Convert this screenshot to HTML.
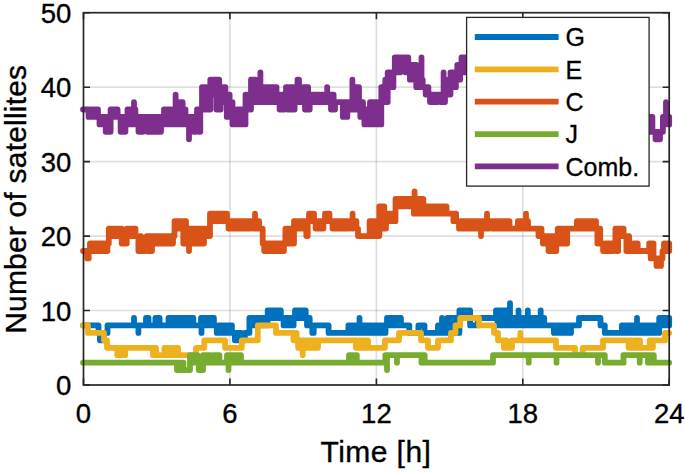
<!DOCTYPE html>
<html><head><meta charset="utf-8"><style>
html,body{margin:0;padding:0;background:#fff;}
body{width:685px;height:472px;overflow:hidden;}
svg{display:block;font-family:"Liberation Sans",sans-serif;}
</style></head><body>
<svg width="685" height="472" viewBox="0 0 685 472">
<rect width="685" height="472" fill="#fff"/>
<g stroke="#262626" stroke-opacity="0.15" stroke-width="1.7"><line x1="229.9" y1="12.7" x2="229.9" y2="385.0"/><line x1="376.4" y1="12.7" x2="376.4" y2="385.0"/><line x1="522.8" y1="12.7" x2="522.8" y2="385.0"/><line x1="83.5" y1="310.5" x2="669.2" y2="310.5"/><line x1="83.5" y1="236.1" x2="669.2" y2="236.1"/><line x1="83.5" y1="161.6" x2="669.2" y2="161.6"/><line x1="83.5" y1="87.2" x2="669.2" y2="87.2"/></g>
<g fill="none" stroke-width="5.8" stroke-linejoin="round" stroke-linecap="round">
<path d="M83.0 325.4L98.5 325.4L98.5 332.9L99.9 332.9L99.9 340.3L101.2 340.3L101.2 332.9L102.6 332.9L102.6 340.3L104.0 340.3L104.0 332.9L107.5 332.9L107.5 325.4L131.5 325.4L146.0 325.4L146.0 318.0L148.5 318.0L148.5 325.4L155.4 325.4L155.4 318.0L156.8 318.0L156.8 325.4L158.2 325.4L158.2 318.0L159.6 318.0L159.6 325.4L161.0 325.4L168.5 325.4L168.5 318.0L170.0 318.0L170.0 325.4L171.4 325.4L171.4 318.0L172.9 318.0L172.9 325.4L174.3 325.4L174.3 318.0L175.8 318.0L175.8 325.4L177.3 325.4L177.3 318.0L178.7 318.0L178.7 325.4L180.2 325.4L180.2 318.0L181.6 318.0L181.6 325.4L183.1 325.4L183.1 318.0L184.5 318.0L184.5 325.4L186.0 325.4L186.0 318.0L187.5 318.0L187.5 325.4L188.9 325.4L188.9 318.0L190.4 318.0L190.4 325.4L191.8 325.4L191.8 318.0L193.3 318.0L193.3 325.4L201.0 325.4L201.0 318.0L202.4 318.0L202.4 325.4L203.9 325.4L203.9 318.0L205.3 318.0L205.3 325.4L206.7 325.4L206.7 318.0L208.2 318.0L208.2 325.4L209.6 325.4L209.6 318.0L211.0 318.0L211.0 325.4L212.4 325.4L212.4 318.0L213.9 318.0L213.9 325.4L215.3 325.4L216.8 325.4L216.8 332.9L218.3 332.9L218.3 325.4L219.8 325.4L219.8 332.9L221.3 332.9L221.3 325.4L222.8 325.4L222.8 332.9L224.4 332.9L224.4 325.4L225.9 325.4L225.9 332.9L227.4 332.9L227.4 325.4L228.9 325.4L228.9 332.9L230.4 332.9L230.4 325.4L231.9 325.4L231.9 332.9L233.4 332.9L234.9 332.9L234.9 340.3L236.5 340.3L236.5 332.9L238.0 332.9L238.0 340.3L239.5 340.3L239.5 332.9L241.1 332.9L241.1 340.3L242.6 340.3L244.9 340.3L244.9 332.9L249.4 332.9L249.4 318.0L250.9 318.0L250.9 325.4L252.4 325.4L252.4 318.0L254.0 318.0L254.0 325.4L255.5 325.4L255.5 318.0L257.0 318.0L257.0 325.4L258.6 325.4L258.6 318.0L260.1 318.0L260.1 325.4L261.6 325.4L261.6 318.0L263.1 318.0L263.1 325.4L264.6 325.4L264.6 318.0L266.2 318.0L266.2 325.4L267.7 325.4L267.7 310.5L269.1 310.5L269.1 318.0L270.6 318.0L270.6 310.5L272.1 310.5L272.1 318.0L273.5 318.0L273.5 310.5L274.9 310.5L274.9 318.0L276.4 318.0L276.4 310.5L277.8 310.5L277.8 318.0L279.3 318.0L279.3 310.5L280.8 310.5L280.8 318.0L282.2 318.0L283.6 318.0L283.6 325.4L285.0 325.4L285.0 318.0L286.5 318.0L286.5 325.4L287.9 325.4L287.9 318.0L289.3 318.0L289.3 325.4L290.7 325.4L290.7 318.0L292.2 318.0L292.2 325.4L293.6 325.4L293.6 318.0L295.0 318.0L295.0 310.5L296.5 310.5L296.5 318.0L298.1 318.0L298.1 310.5L299.6 310.5L299.6 318.0L301.1 318.0L301.1 310.5L302.6 310.5L302.6 318.0L304.2 318.0L304.2 310.5L305.7 310.5L305.7 318.0L307.0 318.0L307.0 325.4L308.4 325.4L308.4 318.0L309.7 318.0L309.7 325.4L311.0 325.4L312.3 325.4L312.3 332.9L313.7 332.9L313.7 325.4L315.0 325.4L328.6 325.4L328.6 332.9L348.4 332.9L348.4 325.4L349.9 325.4L349.9 332.9L351.4 332.9L351.4 325.4L353.0 325.4L353.0 332.9L354.5 332.9L354.5 325.4L356.0 325.4L357.4 325.4L357.4 332.9L358.8 332.9L358.8 325.4L360.2 325.4L360.2 332.9L361.6 332.9L361.6 325.4L363.0 325.4L364.3 325.4L365.8 325.4L365.8 332.9L367.3 332.9L367.3 325.4L368.8 325.4L368.8 332.9L370.4 332.9L370.4 325.4L371.9 325.4L371.9 332.9L373.4 332.9L373.4 325.4L374.9 325.4L374.9 332.9L376.4 332.9L376.4 325.4L377.9 325.4L377.9 332.9L379.4 332.9L379.4 325.4L380.9 325.4L380.9 332.9L382.5 332.9L382.5 325.4L384.0 325.4L384.0 332.9L385.5 332.9L385.5 325.4L387.0 325.4L387.0 318.0L388.5 318.0L388.5 325.4L390.1 325.4L390.1 318.0L391.6 318.0L391.6 325.4L393.2 325.4L393.2 318.0L394.7 318.0L394.7 325.4L396.2 325.4L396.2 318.0L397.8 318.0L397.8 325.4L399.3 325.4L399.3 318.0L400.9 318.0L400.9 325.4L402.4 325.4L409.3 325.4L409.3 332.9L418.4 332.9L418.4 325.4L424.5 325.4L424.5 332.9L438.0 332.9L438.0 325.4L439.5 325.4L439.5 332.9L441.1 332.9L441.1 325.4L442.6 325.4L442.6 332.9L444.1 332.9L444.1 325.4L445.7 325.4L445.7 332.9L447.2 332.9L447.2 318.0L448.7 318.0L448.7 332.9L450.2 332.9L450.2 318.0L451.8 318.0L451.8 332.9L453.3 332.9L453.3 318.0L454.8 318.0L454.8 332.9L456.3 332.9L456.3 318.0L457.9 318.0L457.9 332.9L459.4 332.9L459.4 310.5L460.9 310.5L460.9 318.0L462.5 318.0L462.5 310.5L464.0 310.5L464.0 318.0L465.5 318.0L465.5 310.5L467.0 310.5L467.0 318.0L468.6 318.0L468.6 310.5L470.1 310.5L470.1 325.4L477.7 325.4L477.7 318.0L496.0 318.0L496.0 310.5L497.5 310.5L497.5 325.4L499.0 325.4L499.0 310.5L500.5 310.5L500.5 325.4L502.1 325.4L502.1 310.5L503.6 310.5L503.6 325.4L505.1 325.4L505.1 310.5L506.6 310.5L506.6 318.0L508.0 318.0L508.0 325.4L509.3 325.4L509.3 318.0L510.7 318.0L510.7 325.4L512.0 325.4L512.0 318.0L513.4 318.0L514.9 318.0L514.9 325.4L516.4 325.4L516.4 318.0L517.8 318.0L517.8 325.4L519.3 325.4L519.3 318.0L520.8 318.0L520.8 325.4L522.3 325.4L522.3 318.0L523.8 318.0L523.8 325.4L525.2 325.4L525.2 318.0L526.7 318.0L526.7 325.4L528.2 325.4L528.2 318.0L529.7 318.0L529.7 325.4L531.2 325.4L531.2 318.0L532.6 318.0L532.6 325.4L534.1 325.4L534.1 318.0L535.6 318.0L535.6 325.4L537.1 325.4L537.1 318.0L538.6 318.0L538.6 325.4L540.0 325.4L540.0 318.0L541.5 318.0L541.5 325.4L543.0 325.4L543.0 318.0L544.2 318.0L544.2 325.4L545.4 325.4L552.4 325.4L553.9 325.4L553.9 332.9L555.5 332.9L555.5 325.4L557.0 325.4L557.0 332.9L558.6 332.9L558.6 325.4L560.1 325.4L560.1 332.9L561.7 332.9L561.7 325.4L563.2 325.4L563.2 332.9L564.8 332.9L564.8 325.4L566.4 325.4L566.4 332.9L567.9 332.9L567.9 325.4L569.5 325.4L569.5 332.9L571.0 332.9L571.0 325.4L579.0 325.4L579.0 318.0L600.5 318.0L600.5 325.4L604.8 325.4L604.8 332.9L621.9 332.9L621.9 325.4L623.3 325.4L623.3 332.9L624.8 332.9L624.8 325.4L626.2 325.4L626.2 332.9L627.6 332.9L627.6 325.4L629.1 325.4L629.1 332.9L630.5 332.9L630.5 325.4L631.9 325.4L631.9 332.9L633.4 332.9L633.4 325.4L634.8 325.4L636.3 325.4L636.3 332.9L637.8 332.9L637.8 325.4L639.4 325.4L639.4 332.9L640.9 332.9L640.9 325.4L642.4 325.4L642.4 332.9L644.0 332.9L644.0 325.4L645.5 325.4L645.5 332.9L647.0 332.9L647.0 325.4L648.5 325.4L648.5 332.9L650.0 332.9L650.0 325.4L651.6 325.4L651.6 332.9L653.1 332.9L653.1 325.4L654.6 325.4L654.6 332.9L656.2 332.9L656.2 325.4L657.7 325.4L657.7 332.9L659.2 332.9L659.2 318.0L660.6 318.0L660.6 325.4L662.1 325.4L662.1 318.0L663.5 318.0L663.5 325.4L664.9 325.4L664.9 318.0L666.3 318.0L666.3 325.4L667.8 325.4L667.8 318.0L669.2 318.0L669.2 325.4M134.0 325.4V318.0M138.4 325.4V332.9M201.5 325.4V332.9M359.5 325.4V318.0M442.0 325.4V318.0M510.0 318.0V303.1M518.5 318.0V310.5M527.8 318.0V310.5M540.7 318.0V310.5M637.0 325.4V318.0" stroke="#0072BD"/>
<path d="M83.0 325.4L88.0 325.4L88.0 332.9L104.0 332.9L104.0 340.3L107.0 340.3L107.0 347.8L115.7 347.8L117.3 347.8L117.3 355.2L118.8 355.2L118.8 347.8L120.4 347.8L120.4 355.2L122.0 355.2L122.0 347.8L123.6 347.8L123.6 355.2L125.1 355.2L125.1 347.8L126.7 347.8L151.5 347.8L153.0 347.8L153.0 355.2L154.5 355.2L154.5 347.8L156.0 347.8L156.0 355.2L157.5 355.2L164.4 355.2L164.4 347.8L165.9 347.8L165.9 355.2L167.4 355.2L167.4 347.8L168.9 347.8L168.9 355.2L170.4 355.2L170.4 347.8L171.9 347.8L171.9 355.2L173.5 355.2L173.5 347.8L175.0 347.8L175.0 355.2L176.5 355.2L176.5 347.8L178.0 347.8L178.0 355.2L179.5 355.2L196.0 355.2L196.0 347.8L204.3 347.8L204.3 340.3L223.6 340.3L225.1 340.3L225.1 347.8L226.6 347.8L241.8 347.8L241.8 340.3L257.8 340.3L257.8 325.4L276.0 325.4L276.0 332.9L292.0 332.9L293.5 332.9L293.5 340.3L295.1 340.3L295.1 332.9L296.6 332.9L296.6 340.3L298.1 340.3L298.1 347.8L299.7 347.8L299.7 340.3L301.2 340.3L301.2 347.8L302.7 347.8L302.7 340.3L304.2 340.3L304.2 347.8L305.8 347.8L305.8 340.3L307.3 340.3L307.3 347.8L308.8 347.8L308.8 340.3L310.4 340.3L310.4 347.8L311.9 347.8L311.9 340.3L313.4 340.3L313.4 347.8L314.9 347.8L314.9 340.3L316.5 340.3L316.5 347.8L318.0 347.8L318.0 340.3L354.5 340.3L356.0 340.3L356.0 347.8L357.5 347.8L357.5 340.3L359.0 340.3L359.0 347.8L360.5 347.8L360.5 340.3L362.0 340.3L362.0 347.8L363.5 347.8L363.5 340.3L365.0 340.3L365.0 347.8L366.5 347.8L366.5 340.3L368.0 340.3L368.0 347.8L384.9 347.8L384.9 340.3L399.0 340.3L399.0 332.9L421.0 332.9L421.0 340.3L428.0 340.3L428.0 347.8L438.0 347.8L438.0 340.3L451.0 340.3L451.0 332.9L455.5 332.9L455.5 325.4L460.2 325.4L460.2 318.0L479.0 318.0L479.0 325.4L494.0 325.4L494.0 332.9L498.0 332.9L498.0 340.3L502.5 340.3L503.9 340.3L503.9 347.8L505.2 347.8L505.2 340.3L506.6 340.3L506.6 347.8L508.0 347.8L512.0 347.8L512.0 340.3L556.0 340.3L556.0 347.8L575.0 347.8L575.0 355.2L582.7 355.2L582.7 347.8L603.0 347.8L603.0 340.3L627.2 340.3L628.7 340.3L628.7 347.8L630.1 347.8L630.1 340.3L631.5 340.3L631.5 347.8L633.0 347.8L635.0 347.8L635.0 340.3L636.7 340.3L636.7 347.8L638.3 347.8L638.3 340.3L640.0 340.3L640.0 347.8L649.7 347.8L649.7 340.3L651.3 340.3L651.3 347.8L652.9 347.8L652.9 340.3L654.5 340.3L665.0 340.3L665.0 332.9L669.2 332.9M302.7 347.8V355.2M520.3 340.3V332.9" stroke="#EDB120"/>
<path d="M83.0 251.0L86.0 251.0L87.3 251.0L87.3 258.4L88.7 258.4L88.7 251.0L90.0 251.0L90.0 243.5L91.4 243.5L91.4 251.0L92.9 251.0L92.9 243.5L94.3 243.5L94.3 251.0L95.8 251.0L95.8 243.5L97.2 243.5L97.2 251.0L98.7 251.0L98.7 243.5L100.1 243.5L100.1 251.0L101.6 251.0L101.6 243.5L103.0 243.5L103.0 251.0L104.5 251.0L104.5 243.5L105.9 243.5L105.9 251.0L107.4 251.0L107.4 243.5L108.8 243.5L108.8 228.6L110.4 228.6L110.4 236.1L112.0 236.1L112.0 228.6L113.6 228.6L113.6 236.1L115.2 236.1L115.2 228.6L116.8 228.6L116.8 236.1L118.4 236.1L118.4 228.6L120.0 228.6L121.7 228.6L121.7 243.5L123.3 243.5L123.3 236.1L125.0 236.1L125.0 243.5L126.7 243.5L126.7 228.6L128.0 228.6L129.5 228.6L129.5 236.1L131.0 236.1L131.0 228.6L132.5 228.6L132.5 236.1L134.0 236.1L134.0 228.6L135.5 228.6L135.5 236.1L137.0 236.1L138.4 236.1L138.4 251.0L139.8 251.0L139.8 236.1L141.1 236.1L141.1 251.0L142.5 251.0L142.5 243.5L143.9 243.5L143.9 251.0L145.3 251.0L145.3 243.5L146.7 243.5L146.7 236.1L148.0 236.1L148.0 251.0L149.3 251.0L149.3 236.1L150.7 236.1L150.7 251.0L152.0 251.0L152.0 236.1L153.5 236.1L153.5 243.5L155.0 243.5L155.0 236.1L156.5 236.1L156.5 243.5L158.0 243.5L158.0 236.1L159.5 236.1L159.5 243.5L161.0 243.5L161.0 236.1L162.5 236.1L162.5 243.5L164.0 243.5L164.0 236.1L165.5 236.1L165.5 243.5L167.0 243.5L167.0 236.1L168.5 236.1L168.5 243.5L170.0 243.5L170.0 236.1L171.5 236.1L171.5 243.5L173.0 243.5L173.0 236.1L174.5 236.1L174.5 221.2L176.0 221.2L176.0 228.6L177.5 228.6L177.5 221.2L179.0 221.2L179.0 228.6L180.5 228.6L180.5 221.2L182.0 221.2L183.3 221.2L183.3 243.5L184.7 243.5L184.7 221.2L186.0 221.2L186.0 228.6L187.2 228.6L187.2 243.5L188.5 243.5L188.5 228.6L190.1 228.6L190.1 243.5L191.6 243.5L191.6 228.6L193.2 228.6L193.2 243.5L194.7 243.5L194.7 228.6L196.2 228.6L196.2 243.5L197.8 243.5L197.8 228.6L199.3 228.6L199.3 243.5L200.9 243.5L200.9 228.6L202.4 228.6L202.4 243.5L204.0 243.5L204.0 228.6L205.5 228.6L205.5 236.1L207.0 236.1L207.0 228.6L208.5 228.6L208.5 236.1L210.0 236.1L210.0 213.7L211.5 213.7L211.5 221.2L213.1 221.2L213.1 213.7L214.6 213.7L214.6 221.2L216.2 221.2L216.2 213.7L217.7 213.7L217.7 221.2L219.3 221.2L219.3 213.7L220.8 213.7L220.8 221.2L222.4 221.2L222.4 213.7L223.9 213.7L223.9 221.2L225.5 221.2L225.5 213.7L227.0 213.7L227.0 221.2L228.5 221.2L228.5 228.6L230.0 228.6L230.0 221.2L231.5 221.2L231.5 228.6L233.0 228.6L233.0 221.2L234.4 221.2L234.4 228.6L235.9 228.6L235.9 221.2L237.4 221.2L237.4 228.6L238.9 228.6L238.9 221.2L240.4 221.2L240.4 228.6L241.9 228.6L241.9 221.2L243.4 221.2L243.4 228.6L244.9 228.6L244.9 221.2L246.3 221.2L246.3 228.6L247.8 228.6L247.8 221.2L249.3 221.2L249.3 228.6L250.8 228.6L250.8 221.2L252.3 221.2L253.7 221.2L253.7 228.6L255.1 228.6L255.1 221.2L256.4 221.2L256.4 228.6L257.8 228.6L257.8 221.2L259.1 221.2L259.1 228.6L260.5 228.6L262.7 228.6L262.7 243.5L264.2 243.5L264.2 251.0L265.7 251.0L265.7 243.5L267.2 243.5L267.2 251.0L268.8 251.0L268.8 243.5L270.3 243.5L270.3 251.0L271.8 251.0L271.8 243.5L273.3 243.5L273.3 251.0L274.8 251.0L274.8 243.5L276.3 243.5L276.3 251.0L277.8 251.0L277.8 243.5L279.3 243.5L279.3 251.0L280.9 251.0L280.9 243.5L282.4 243.5L282.4 251.0L283.9 251.0L283.9 243.5L285.4 243.5L285.4 228.6L286.8 228.6L286.8 243.5L288.3 243.5L288.3 228.6L289.7 228.6L289.7 243.5L291.1 243.5L291.1 228.6L292.6 228.6L292.6 243.5L294.0 243.5L294.0 221.2L295.6 221.2L295.6 228.6L297.1 228.6L297.1 221.2L298.7 221.2L298.7 228.6L300.3 228.6L300.3 221.2L301.9 221.2L301.9 228.6L303.4 228.6L303.4 221.2L305.0 221.2L306.3 221.2L306.3 236.1L307.7 236.1L307.7 221.2L309.0 221.2L309.0 213.7L310.7 213.7L310.7 221.2L312.3 221.2L312.3 213.7L314.0 213.7L314.0 221.2L315.6 221.2L315.6 228.6L317.1 228.6L317.1 221.2L318.7 221.2L318.7 228.6L320.3 228.6L320.3 221.2L321.9 221.2L321.9 228.6L323.4 228.6L323.4 221.2L325.0 221.2L325.0 213.7L326.5 213.7L326.5 221.2L328.0 221.2L328.0 213.7L329.5 213.7L329.5 221.2L331.0 221.2L332.5 221.2L332.5 228.6L334.0 228.6L334.0 221.2L335.5 221.2L335.5 228.6L336.9 228.6L336.9 221.2L338.4 221.2L338.4 228.6L339.9 228.6L339.9 221.2L341.4 221.2L341.4 228.6L342.9 228.6L342.9 221.2L344.4 221.2L344.4 228.6L345.8 228.6L345.8 221.2L347.3 221.2L347.3 228.6L348.8 228.6L348.8 221.2L350.3 221.2L351.8 221.2L351.8 228.6L353.2 228.6L353.2 221.2L354.7 221.2L356.4 221.2L356.4 228.6L358.0 228.6L358.0 236.1L369.6 236.1L369.6 221.2L371.2 221.2L371.2 236.1L372.8 236.1L372.8 221.2L374.5 221.2L374.5 236.1L376.1 236.1L376.1 221.2L377.7 221.2L377.7 236.1L379.3 236.1L379.3 206.3L381.0 206.3L381.0 228.6L382.6 228.6L382.6 206.3L384.3 206.3L384.3 228.6L386.0 228.6L386.0 213.7L387.6 213.7L387.6 221.2L389.2 221.2L389.2 213.7L390.8 213.7L390.8 221.2L392.3 221.2L392.3 213.7L393.9 213.7L393.9 221.2L395.5 221.2L395.5 198.8L397.0 198.8L397.0 206.3L398.6 206.3L398.6 198.8L400.1 198.8L400.1 206.3L401.6 206.3L401.6 198.8L403.1 198.8L403.1 206.3L404.7 206.3L404.7 198.8L406.2 198.8L406.2 206.3L407.7 206.3L407.7 198.8L409.2 198.8L409.2 206.3L410.8 206.3L410.8 198.8L412.3 198.8L413.9 198.8L413.9 213.7L415.4 213.7L415.4 198.8L417.0 198.8L417.0 213.7L418.6 213.7L418.6 198.8L420.2 198.8L420.2 213.7L421.7 213.7L421.7 198.8L423.3 198.8L423.3 206.3L424.8 206.3L424.8 213.7L426.4 213.7L426.4 206.3L427.9 206.3L427.9 213.7L429.5 213.7L429.5 206.3L431.0 206.3L431.0 213.7L432.6 213.7L432.6 206.3L434.1 206.3L434.1 213.7L435.7 213.7L435.7 206.3L437.2 206.3L437.2 213.7L438.8 213.7L438.8 206.3L440.3 206.3L440.3 213.7L441.9 213.7L441.9 206.3L443.4 206.3L443.4 213.7L445.0 213.7L445.0 206.3L446.5 206.3L446.5 213.7L452.0 213.7L453.4 213.7L453.4 221.2L454.8 221.2L454.8 213.7L456.1 213.7L456.1 221.2L457.5 221.2L459.0 221.2L459.0 228.6L460.6 228.6L460.6 221.2L462.1 221.2L462.1 228.6L463.7 228.6L463.7 221.2L465.2 221.2L465.2 228.6L466.7 228.6L466.7 221.2L468.3 221.2L468.3 228.6L469.8 228.6L469.8 221.2L471.4 221.2L471.4 228.6L472.9 228.6L472.9 221.2L474.5 221.2L474.5 228.6L476.0 228.6L476.0 221.2L477.5 221.2L477.5 228.6L479.1 228.6L479.1 221.2L480.6 221.2L480.6 228.6L482.2 228.6L482.2 221.2L483.7 221.2L485.1 221.2L485.1 228.6L486.4 228.6L486.4 221.2L487.8 221.2L487.8 228.6L489.1 228.6L489.1 221.2L490.5 221.2L492.0 221.2L492.0 228.6L493.4 228.6L493.4 221.2L494.9 221.2L494.9 228.6L496.4 228.6L496.4 221.2L497.8 221.2L497.8 228.6L499.3 228.6L499.3 221.2L500.8 221.2L500.8 228.6L502.2 228.6L502.2 221.2L503.7 221.2L503.7 228.6L505.1 228.6L505.1 221.2L506.6 221.2L506.6 228.6L508.1 228.6L508.1 221.2L509.5 221.2L509.5 228.6L511.0 228.6L517.9 228.6L517.9 221.2L519.3 221.2L519.3 228.6L520.6 228.6L520.6 221.2L522.0 221.2L522.0 228.6L523.4 228.6L523.4 221.2L525.0 221.2L525.0 228.6L526.5 228.6L526.5 221.2L528.0 221.2L528.0 228.6L529.6 228.6L537.0 228.6L538.5 228.6L538.5 236.1L540.0 236.1L540.0 228.6L541.5 228.6L541.5 236.1L542.9 236.1L542.9 243.5L544.2 243.5L544.2 236.1L545.6 236.1L545.6 243.5L547.0 243.5L547.0 236.1L548.5 236.1L548.5 251.0L550.1 251.0L550.1 236.1L551.6 236.1L551.6 251.0L553.2 251.0L553.2 236.1L554.7 236.1L554.7 251.0L556.3 251.0L556.3 236.1L557.8 236.1L557.8 228.6L559.4 228.6L559.4 243.5L560.9 243.5L560.9 228.6L562.5 228.6L562.5 243.5L564.1 243.5L564.1 228.6L565.7 228.6L565.7 243.5L567.2 243.5L567.2 228.6L568.8 228.6L576.9 228.6L576.9 221.2L578.4 221.2L578.4 228.6L579.8 228.6L579.8 221.2L581.3 221.2L581.3 228.6L582.8 228.6L582.8 221.2L584.2 221.2L584.2 228.6L585.7 228.6L585.7 221.2L587.2 221.2L587.2 228.6L588.7 228.6L588.7 221.2L590.1 221.2L590.1 228.6L591.6 228.6L591.6 221.2L593.1 221.2L593.1 228.6L594.5 228.6L594.5 221.2L596.0 221.2L596.0 228.6L597.4 228.6L597.4 243.5L598.8 243.5L598.8 228.6L600.2 228.6L600.2 243.5L601.6 243.5L603.1 243.5L603.1 251.0L604.7 251.0L604.7 243.5L606.2 243.5L606.2 251.0L607.7 251.0L607.7 243.5L609.3 243.5L609.3 251.0L610.8 251.0L610.8 243.5L612.3 243.5L612.3 251.0L613.9 251.0L613.9 243.5L615.4 243.5L615.4 228.6L616.8 228.6L616.8 251.0L618.1 251.0L618.1 228.6L619.5 228.6L620.9 228.6L620.9 236.1L622.2 236.1L622.2 228.6L623.6 228.6L623.6 236.1L625.0 236.1L626.4 236.1L626.4 251.0L627.8 251.0L627.8 236.1L629.1 236.1L629.1 251.0L630.5 251.0L630.5 243.5L631.9 243.5L631.9 251.0L633.4 251.0L633.4 243.5L634.8 243.5L634.8 251.0L636.3 251.0L636.3 243.5L637.7 243.5L637.7 251.0L649.2 251.0L649.2 243.5L650.7 243.5L650.7 258.4L652.1 258.4L652.1 243.5L653.5 243.5L653.5 258.4L655.0 258.4L656.5 258.4L656.5 265.9L658.0 265.9L658.0 258.4L659.5 258.4L659.5 265.9L661.0 265.9L661.0 258.4L662.5 258.4L662.5 251.0L664.0 251.0L664.0 243.5L665.7 243.5L665.7 251.0L667.5 251.0L667.5 243.5L669.2 243.5L669.2 251.0M189.0 243.5V251.0M255.0 221.2V213.7M352.6 221.2V213.7M414.6 198.8V191.4M481.0 228.6V236.1M487.0 221.2V213.7M526.0 221.2V213.7" stroke="#D95319"/>
<path d="M83.0 362.7L175.4 362.7L177.0 362.7L177.0 370.1L178.6 370.1L178.6 362.7L180.2 362.7L180.2 370.1L181.8 370.1L181.8 362.7L183.4 362.7L183.4 370.1L185.0 370.1L190.0 370.1L190.0 355.2L191.5 355.2L191.5 362.7L193.0 362.7L193.0 355.2L194.4 355.2L194.4 362.7L195.9 362.7L195.9 355.2L197.4 355.2L197.4 362.7L198.8 362.7L198.8 370.1L200.2 370.1L200.2 362.7L201.6 362.7L201.6 370.1L203.0 370.1L203.0 355.2L204.4 355.2L204.4 362.7L205.8 362.7L205.8 355.2L207.2 355.2L207.2 362.7L208.6 362.7L208.6 355.2L210.0 355.2L210.0 362.7L212.5 362.7L212.5 355.2L213.9 355.2L213.9 362.7L215.3 362.7L215.3 355.2L216.7 355.2L216.7 362.7L218.0 362.7L218.0 355.2L219.4 355.2L219.4 362.7L220.8 362.7L227.0 362.7L227.0 355.2L228.6 355.2L228.6 362.7L230.1 362.7L230.1 355.2L231.7 355.2L231.7 362.7L233.2 362.7L233.2 355.2L234.8 355.2L234.8 362.7L236.3 362.7L236.3 355.2L237.9 355.2L237.9 362.7L239.4 362.7L239.4 355.2L241.0 355.2L241.0 362.7L349.0 362.7L349.0 355.2L350.6 355.2L350.6 362.7L352.1 362.7L352.1 355.2L353.6 355.2L353.6 362.7L355.2 362.7L355.2 355.2L356.8 355.2L356.8 362.7L358.3 362.7L385.3 362.7L385.3 355.2L424.7 355.2L424.7 362.7L493.0 362.7L493.0 355.2L594.9 355.2L604.8 355.2L604.8 362.7L623.6 362.7L623.4 355.2L646.5 355.2L648.0 355.2L648.0 362.7L649.4 362.7L649.4 355.2L650.9 355.2L650.9 362.7L652.4 362.7L652.4 355.2L653.8 355.2L653.8 362.7L655.3 362.7L669.2 362.7M228.5 362.7V370.1M387.0 355.2V370.1M397.0 355.2V362.7M421.5 355.2V362.7M528.7 355.2V362.7M556.5 355.2V362.7M598.0 355.2V362.7M639.7 355.2V362.7" stroke="#77AC30"/>
<path d="M83.0 109.5L87.0 109.5L88.6 109.5L88.6 116.9L90.1 116.9L90.1 109.5L91.7 109.5L91.7 116.9L93.3 116.9L93.3 109.5L94.9 109.5L94.9 116.9L96.4 116.9L96.4 109.5L98.0 109.5L98.0 116.9L99.5 116.9L99.5 124.4L101.0 124.4L101.0 116.9L102.5 116.9L102.5 124.4L104.0 124.4L104.0 116.9L105.7 116.9L105.7 131.8L107.3 131.8L107.3 116.9L108.9 116.9L108.9 131.8L110.6 131.8L110.6 109.5L112.0 109.5L112.0 116.9L113.4 116.9L113.4 109.5L114.8 109.5L114.8 116.9L116.2 116.9L116.2 109.5L117.6 109.5L117.6 116.9L119.0 116.9L120.6 116.9L120.6 131.8L122.2 131.8L122.2 116.9L123.8 116.9L123.8 131.8L125.4 131.8L125.4 116.9L127.5 116.9L127.5 109.5L129.1 109.5L129.1 124.4L130.7 124.4L130.7 109.5L132.2 109.5L132.2 124.4L133.8 124.4L133.8 109.5L135.4 109.5L135.4 124.4L137.0 124.4L137.0 116.9L138.5 116.9L138.5 131.8L140.0 131.8L140.0 116.9L141.5 116.9L141.5 131.8L143.0 131.8L143.0 116.9L144.5 116.9L144.5 124.4L146.0 124.4L146.0 116.9L147.5 116.9L147.5 131.8L149.0 131.8L149.0 116.9L150.5 116.9L150.5 131.8L152.0 131.8L152.0 116.9L153.5 116.9L153.5 131.8L155.0 131.8L155.0 116.9L156.5 116.9L156.5 131.8L158.0 131.8L158.0 116.9L159.5 116.9L159.5 131.8L161.0 131.8L161.0 116.9L162.5 116.9L162.5 124.4L164.0 124.4L164.0 109.5L165.5 109.5L165.5 124.4L167.0 124.4L167.0 109.5L168.5 109.5L168.5 124.4L170.0 124.4L170.0 109.5L171.5 109.5L171.5 124.4L173.0 124.4L173.0 109.5L174.4 109.5L174.4 124.4L175.8 124.4L175.8 109.5L177.1 109.5L177.1 124.4L178.5 124.4L178.5 102.1L179.9 102.1L179.9 124.4L181.2 124.4L181.2 102.1L182.6 102.1L182.6 124.4L184.0 124.4L184.0 109.5L185.5 109.5L185.5 124.4L187.0 124.4L187.0 116.9L188.7 116.9L188.7 124.4L190.3 124.4L190.3 116.9L192.0 116.9L193.7 116.9L193.7 131.8L195.3 131.8L195.3 116.9L197.0 116.9L197.0 109.5L198.7 109.5L198.7 131.8L200.3 131.8L200.3 109.5L202.0 109.5L202.0 87.2L203.4 87.2L203.4 109.5L204.8 109.5L204.8 87.2L206.2 87.2L206.2 109.5L207.5 109.5L207.5 87.2L208.9 87.2L208.9 109.5L210.3 109.5L210.3 79.7L211.9 79.7L211.9 94.6L213.4 94.6L213.4 79.7L215.0 79.7L216.4 79.7L216.4 109.5L217.8 109.5L217.8 79.7L219.2 79.7L219.2 109.5L220.6 109.5L220.6 87.2L222.2 87.2L222.2 102.1L223.8 102.1L223.8 87.2L225.4 87.2L225.4 94.6L226.8 94.6L226.8 116.9L228.2 116.9L228.2 94.6L229.6 94.6L229.6 116.9L231.0 116.9L231.0 102.1L232.5 102.1L232.5 124.4L234.0 124.4L234.0 109.5L235.4 109.5L235.4 124.4L236.9 124.4L236.9 109.5L238.3 109.5L238.3 124.4L239.8 124.4L239.8 109.5L241.2 109.5L241.2 124.4L242.6 124.4L242.6 109.5L244.1 109.5L244.1 124.4L245.5 124.4L245.5 94.6L246.9 94.6L246.9 109.5L248.2 109.5L248.2 94.6L249.6 94.6L249.6 109.5L251.0 109.5L251.0 79.7L252.5 79.7L252.5 102.1L254.0 102.1L254.0 79.7L255.5 79.7L255.5 102.1L257.0 102.1L257.0 87.2L258.5 87.2L258.5 102.1L260.0 102.1L260.0 87.2L261.5 87.2L261.5 102.1L263.0 102.1L263.0 87.2L264.5 87.2L264.5 102.1L266.0 102.1L266.0 87.2L267.5 87.2L267.5 102.1L269.0 102.1L269.0 87.2L270.5 87.2L270.5 102.1L272.0 102.1L272.0 87.2L273.5 87.2L273.5 102.1L275.0 102.1L275.0 87.2L276.5 87.2L276.5 102.1L278.0 102.1L278.0 94.6L279.6 94.6L279.6 109.5L281.2 109.5L281.2 94.6L282.8 94.6L282.8 109.5L284.4 109.5L284.4 94.6L286.0 94.6L286.0 87.2L287.4 87.2L287.4 109.5L288.9 109.5L288.9 87.2L290.3 87.2L290.3 109.5L291.7 109.5L291.7 87.2L293.2 87.2L293.2 109.5L294.6 109.5L294.6 87.2L296.1 87.2L296.1 102.1L297.5 102.1L297.5 79.7L299.0 79.7L299.0 102.1L300.5 102.1L300.5 87.2L301.9 87.2L301.9 102.1L303.4 102.1L303.4 87.2L305.0 87.2L305.0 109.5L306.5 109.5L306.5 87.2L308.1 87.2L308.1 109.5L309.7 109.5L309.7 94.6L311.2 94.6L311.2 102.1L312.8 102.1L312.8 94.6L314.3 94.6L314.3 102.1L315.8 102.1L315.8 94.6L317.4 94.6L317.4 102.1L318.9 102.1L318.9 94.6L320.4 94.6L320.4 102.1L321.9 102.1L321.9 94.6L323.5 94.6L323.5 102.1L325.0 102.1L325.0 94.6L326.5 94.6L326.5 102.1L328.1 102.1L328.1 94.6L329.6 94.6L331.0 94.6L331.0 109.5L332.3 109.5L332.3 94.6L333.6 94.6L333.6 109.5L335.0 109.5L335.0 102.1L341.5 102.1L342.9 102.1L342.9 116.9L344.4 116.9L344.4 102.1L345.8 102.1L345.8 116.9L347.3 116.9L347.3 102.1L348.7 102.1L350.3 102.1L350.3 109.5L351.9 109.5L351.9 102.1L353.4 102.1L353.4 109.5L355.0 109.5L355.0 87.2L356.3 87.2L356.3 109.5L357.7 109.5L357.7 87.2L359.0 87.2L359.0 102.1L360.3 102.1L360.3 116.9L361.7 116.9L361.7 102.1L363.0 102.1L363.0 109.5L364.4 109.5L364.4 124.4L365.8 124.4L365.8 109.5L367.2 109.5L367.2 124.4L368.6 124.4L368.6 109.5L370.0 109.5L370.0 102.1L371.4 102.1L371.4 124.4L372.8 124.4L372.8 102.1L374.2 102.1L374.2 124.4L375.6 124.4L375.6 102.1L377.1 102.1L377.1 124.4L378.5 124.4L378.5 102.1L379.9 102.1L379.9 124.4L381.3 124.4L381.3 87.2L382.6 87.2L382.6 102.1L384.0 102.1L384.0 87.2L385.3 87.2L385.3 79.7L386.5 79.7L386.5 102.1L387.7 102.1L387.7 72.3L389.1 72.3L389.1 87.2L390.5 87.2L390.5 72.3L392.0 72.3L392.0 87.2L393.4 87.2L393.4 72.3L394.8 72.3L394.8 57.4L396.2 57.4L396.2 72.3L397.6 72.3L397.6 57.4L399.0 57.4L399.0 72.3L400.4 72.3L400.4 57.4L402.2 57.4L402.2 64.8L404.0 64.8L404.0 57.4L405.4 57.4L405.4 72.3L406.9 72.3L406.9 57.4L408.3 57.4L408.3 64.8L409.9 64.8L409.9 79.7L411.5 79.7L411.5 64.8L413.0 64.8L413.0 79.7L414.6 79.7L414.6 64.8L416.3 64.8L416.3 87.2L418.0 87.2L418.0 79.7L419.6 79.7L419.6 87.2L421.1 87.2L421.1 79.7L422.7 79.7L422.7 87.2L424.3 87.2L425.7 87.2L425.7 94.6L427.0 94.6L427.0 87.2L428.4 87.2L428.4 94.6L430.0 94.6L430.0 102.1L431.5 102.1L431.5 94.6L433.1 94.6L433.1 102.1L434.7 102.1L434.7 94.6L436.3 94.6L436.3 102.1L437.8 102.1L437.8 94.6L439.4 94.6L440.8 94.6L440.8 102.1L442.2 102.1L442.2 94.6L443.6 94.6L443.6 102.1L445.0 102.1L445.0 79.7L446.4 79.7L446.4 94.6L447.8 94.6L447.8 79.7L449.1 79.7L449.1 94.6L450.5 94.6L450.5 72.3L451.9 72.3L451.9 87.2L453.2 87.2L453.2 72.3L454.6 72.3L454.6 87.2L455.9 87.2L455.9 72.3L457.3 72.3L457.3 64.8L458.7 64.8L458.7 79.7L460.1 79.7L460.1 64.8L461.5 64.8L461.5 57.4L462.9 57.4L462.9 72.3L464.3 72.3L464.3 57.4L465.8 57.4L465.8 72.3L467.2 72.3L467.2 57.4L468.6 57.4L468.6 72.3L470.0 72.3L470.0 87.2L645.0 87.2L645.0 116.9L646.5 116.9L646.5 131.8L648.0 131.8L648.0 116.9L649.4 116.9L649.4 131.8L650.9 131.8L650.9 116.9L652.4 116.9L652.4 131.8L654.0 131.8L655.5 131.8L655.5 139.3L657.0 139.3L657.0 131.8L658.5 131.8L658.5 139.3L660.0 139.3L660.0 131.8L662.9 131.8L662.9 116.9L664.5 116.9L664.5 124.4L666.0 124.4L666.0 116.9L667.6 116.9L667.6 124.4L669.2 124.4L669.2 116.9M134.0 109.5V102.1M175.6 109.5V94.6M189.0 124.4V139.3M260.4 87.2V72.3M327.2 94.6V87.2M352.4 102.1V79.7M421.5 79.7V57.4M443.6 94.6V72.3M666.0 116.9V102.1" stroke="#7E2F8E"/>
</g>
<path d="M83.5 385.0V378.5M83.5 12.7V19.2M229.9 385.0V378.5M229.9 12.7V19.2M376.4 385.0V378.5M376.4 12.7V19.2M522.8 385.0V378.5M522.8 12.7V19.2M669.2 385.0V378.5M669.2 12.7V19.2M83.5 385.0H90.0M669.2 385.0H662.7M83.5 310.5H90.0M669.2 310.5H662.7M83.5 236.1H90.0M669.2 236.1H662.7M83.5 161.6H90.0M669.2 161.6H662.7M83.5 87.2H90.0M669.2 87.2H662.7M83.5 12.7H90.0M669.2 12.7H662.7" stroke="#262626" stroke-width="1.6" fill="none"/>
<rect x="83.5" y="12.7" width="585.7" height="372.3" fill="none" stroke="#262626" stroke-width="1.7"/>
<g fill="#000" stroke="#000" stroke-width="0.35" font-size="27.5"><text x="83.5" y="423.3" text-anchor="middle">0</text><text x="229.9" y="423.3" text-anchor="middle">6</text><text x="376.4" y="423.3" text-anchor="middle">12</text><text x="522.8" y="423.3" text-anchor="middle">18</text><text x="669.2" y="423.3" text-anchor="middle">24</text><text x="71.3" y="395.1" text-anchor="end">0</text><text x="71.3" y="320.6" text-anchor="end">10</text><text x="71.3" y="246.2" text-anchor="end">20</text><text x="71.3" y="171.7" text-anchor="end">30</text><text x="71.3" y="97.3" text-anchor="end">40</text><text x="71.3" y="22.8" text-anchor="end">50</text></g>
<g fill="#000" font-size="25"><rect x="466.6" y="17.4" width="182.5" height="168.7" fill="#fff" stroke="#262626" stroke-width="1.3"/><line x1="474.8" y1="37.0" x2="558.6" y2="37.0" stroke="#0072BD" stroke-width="5.8"/><text x="565.5" y="46.2" stroke="#000" stroke-width="0.3">G</text><line x1="474.8" y1="69.3" x2="558.6" y2="69.3" stroke="#EDB120" stroke-width="5.8"/><text x="565.5" y="78.5" stroke="#000" stroke-width="0.3">E</text><line x1="474.8" y1="101.7" x2="558.6" y2="101.7" stroke="#D95319" stroke-width="5.8"/><text x="565.5" y="110.9" stroke="#000" stroke-width="0.3">C</text><line x1="474.8" y1="134.1" x2="558.6" y2="134.1" stroke="#77AC30" stroke-width="5.8"/><text x="565.5" y="143.2" stroke="#000" stroke-width="0.3">J</text><line x1="474.8" y1="166.4" x2="558.6" y2="166.4" stroke="#7E2F8E" stroke-width="5.8"/><text x="565.5" y="175.6" stroke="#000" stroke-width="0.3">Comb.</text></g>
<text x="375.9" y="461.6" text-anchor="middle" font-size="30" letter-spacing="0.45" fill="#000" stroke="#000" stroke-width="0.35">Time [h]</text>
<text transform="translate(26.3 199.3) rotate(-90)" text-anchor="middle" font-size="30" letter-spacing="0.2" fill="#000" stroke="#000" stroke-width="0.35">Number of satellites</text>
</svg>
</body></html>
